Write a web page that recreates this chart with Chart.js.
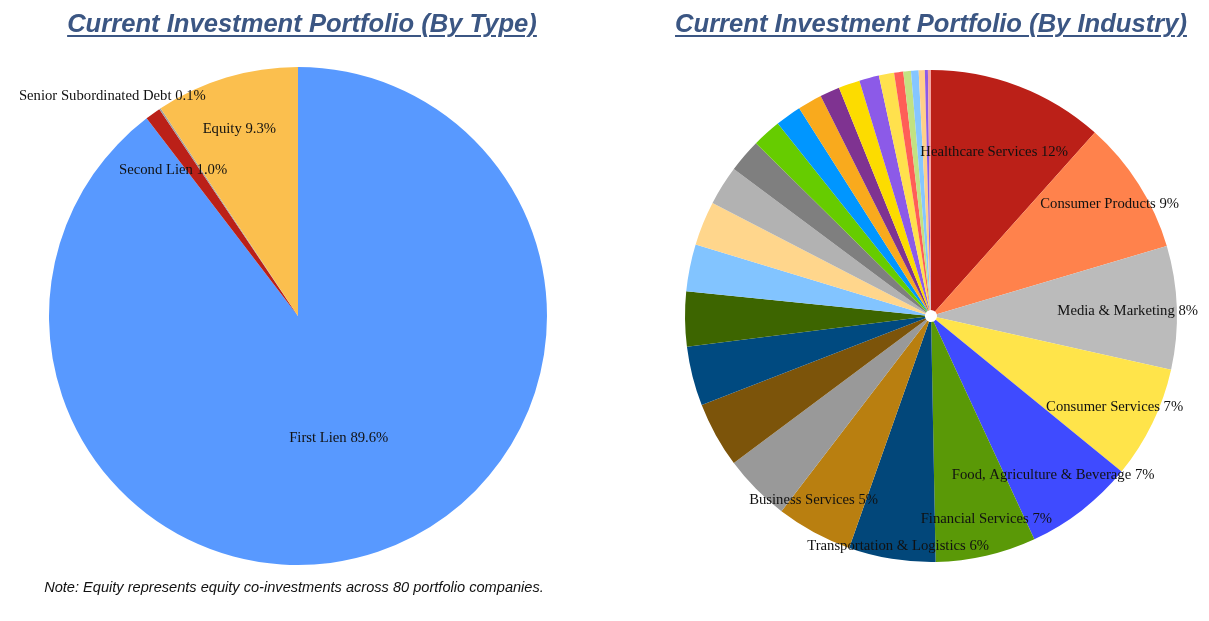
<!DOCTYPE html>
<html>
<head>
<meta charset="utf-8">
<script src="https://cdn.jsdelivr.net/npm/chart.js@4.4.1/dist/chart.umd.min.js"></script>
<style>
  html, body { margin: 0; padding: 0; background: #fff; }
  body { width: 1209px; height: 621px; position: relative; overflow: hidden; }
  .panel { position: absolute; top: 0; width: 604px; height: 621px; }
  .panel canvas { position: absolute; left: 0; top: 0; }
  .title {
    position: absolute; top: 9px; left: 0; width: 604px; margin: 0;
    text-align: center; font: italic bold 25.6px "Liberation Sans", Arial, sans-serif;
    color: #3B5683; text-decoration: underline; text-underline-offset: 3px;
    text-decoration-thickness: 2px; z-index: 2;
  }
  .note {
    position: absolute; top: 579px; left: 0; width: 588px; text-align: center;
    font: italic 14.6px "Liberation Sans", Arial, sans-serif; color: #111; z-index: 2;
  }
</style>
</head>
<body>
<div class="panel" style="left:0">
  <h2 class="title">Current Investment Portfolio (By Type)</h2>
  <canvas id="typeChart" width="604" height="621"></canvas>
  <div class="note">Note: Equity represents equity co-investments across 80 portfolio companies.</div>
</div>
<div class="panel" style="left:605px">
  <h2 class="title" style="left:24px">Current Investment Portfolio (By Industry)</h2>
  <canvas id="industryChart" width="604" height="621"></canvas>
</div>
<script>
/* ── data: portfolio by type (%) ── */
const typeLabels = ['First Lien', 'Second Lien', 'Senior Subordinated Debt', 'Equity'];
const typeValues = [89.6, 1.0, 0.1, 9.3];
const typeColors = ['#5899FF', '#BB2018', '#A0A0A0', '#FBBF4E'];

/* ── data: portfolio by industry (%) ── */
const industryLabels = [
  'Healthcare Services', 'Consumer Products', 'Media & Marketing', 'Consumer Services',
  'Food, Agriculture & Beverage', 'Financial Services', 'Transportation & Logistics',
  'Business Services', 'Industry 9', 'Industry 10', 'Industry 11', 'Industry 12',
  'Industry 13', 'Industry 14', 'Industry 15', 'Industry 16', 'Industry 17',
  'Industry 18', 'Industry 19', 'Industry 20', 'Industry 21', 'Industry 22',
  'Industry 23', 'Industry 24', 'Industry 25', 'Industry 26', 'Industry 27',
  'Industry 28', 'Industry 29',
];
const industryValues = [
  11.6, 8.8, 8.1, 7.4, 7.2, 6.6, 5.7, 5.0, 4.4, 4.3, 3.9, 3.6, 3.1, 2.9, 2.6,
  2.2, 1.9, 1.7, 1.6, 1.3, 1.4, 1.3, 1.0, 0.6, 0.5, 0.5, 0.4, 0.2, 0.2,
];
const industryColors = [
  '#BB2018', '#FF824C', '#BBBBBB', '#FFE44A', '#3F4BFF', '#5A9907', '#02477A',
  '#B97F10', '#999999', '#7C540A', '#004A80', '#3D6500', '#82C4FF', '#FFD68C',
  '#B2B2B2', '#7F7F7F', '#66CC00', '#0096FF', '#F9AA1D', '#7F3391', '#FCDC00',
  '#8C5AE8', '#FFE14D', '#FF5E57', '#C2E282', '#85C6FF', '#FFD08A', '#8C5AE8',
  '#F4A3A0',
];

/* ── slice labels drawn inside / near each arc ── */
const sliceLabels = {
  id: 'sliceLabels',
  afterDatasetsDraw(chart, args, opts) {
    const ctx = chart.ctx;
    const meta = chart.getDatasetMeta(0);
    const vals = chart.data.datasets[0].data;
    const total = vals.reduce((a, b) => a + b, 0);
    ctx.save();
    ctx.font = '14.7px "Liberation Serif", "Times New Roman", serif';
    ctx.fillStyle = '#111';
    ctx.textAlign = 'center';
    ctx.textBaseline = 'middle';
    meta.data.forEach((arc, i) => {
      const pct = vals[i] / total * 100;
      const txt = opts.format(chart.data.labels[i], pct);
      if (!txt) return;
      const p = opts.place[i] || [0.8, 0];
      const mid = (arc.startAngle + arc.endAngle) / 2;
      const r = arc.outerRadius * p[0];
      ctx.fillText(txt, arc.x + Math.cos(mid) * r + p[1], arc.y + Math.sin(mid) * r + 2);
    });
    ctx.restore();
  },
};

Chart.defaults.animation = false;
Chart.defaults.plugins.legend.display = false;
Chart.defaults.plugins.tooltip.enabled = false;

new Chart(document.getElementById('typeChart'), {
  type: 'pie',
  data: {
    labels: typeLabels,
    datasets: [{ data: typeValues, backgroundColor: typeColors, borderWidth: 0 }],
  },
  options: {
    responsive: false,
    layout: { padding: { left: 49, right: 57, top: 67, bottom: 56 } },
    plugins: {
      sliceLabels: {
        format: (name, pct) => `${name} ${pct.toFixed(1)}%`,
        place: [[0.51, 0], [0.73, -19], [1.07, -38], [0.79, -2]],
      },
    },
  },
  plugins: [sliceLabels],
});

new Chart(document.getElementById('industryChart'), {
  type: 'pie',
  data: {
    labels: industryLabels,
    datasets: [{ data: industryValues, backgroundColor: industryColors, borderWidth: 0 }],
  },
  options: {
    responsive: false,
    cutout: 6,
    layout: { padding: { left: 80, right: 32, top: 70, bottom: 59 } },
    plugins: {
      sliceLabels: {
        format: (name, pct) => Math.round(pct) >= 5 ? `${name} ${Math.round(pct)}%` : '',
        place: [[0.72, 0], [0.86, 0], [0.80, 0], [0.83, 0], [0.81, 0],
                [0.84, 9], [0.94, 4], [0.84, -19]],
      },
    },
  },
  plugins: [sliceLabels],
});
</script>
</body>
</html>
